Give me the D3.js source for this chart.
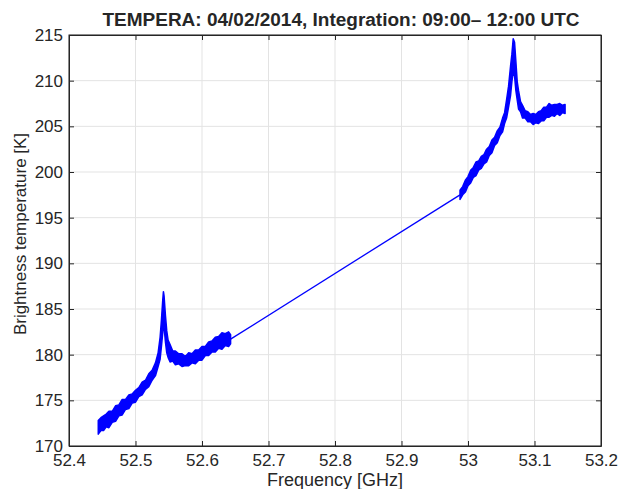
<!DOCTYPE html>
<html>
<head>
<meta charset="utf-8">
<script src="https://cdn.jsdelivr.net/npm/d3@7"></script>
<style>
  body { margin: 0; background: #fff; }
  text { font-family: "Liberation Sans", Arial, sans-serif; fill: #262626; }
</style>
</head>
<body>
<div class="chart"></div>
<script>
// spectrum, low band (frequency, lower and upper edge of the noisy trace)
const freqLow = [52.444, 52.448, 52.452, 52.456, 52.460, 52.465, 52.470, 52.475, 52.480, 52.485,
  52.490, 52.495, 52.500, 52.505, 52.510, 52.515, 52.520, 52.525, 52.530, 52.534,
  52.537, 52.539, 52.541, 52.542, 52.543, 52.545, 52.547, 52.549, 52.552, 52.556,
  52.560, 52.565, 52.570, 52.575, 52.580, 52.585, 52.590, 52.595, 52.600, 52.605,
  52.610, 52.615, 52.620, 52.625, 52.630, 52.635, 52.640, 52.643];
const loLow = [171.3, 171.7, 171.7, 172.1, 172.0, 172.6, 172.7, 173.3, 173.4, 174.0,
  174.1, 174.7, 174.8, 175.4, 175.6, 176.2, 176.5, 177.2, 177.7, 178.7,
  179.5, 180.9, 182.4, 183.8, 183.0, 181.4, 180.2, 179.7, 179.2, 179.3,
  178.9, 179.0, 178.7, 178.8, 178.8, 179.1, 179.0, 179.4, 179.4, 179.9,
  179.9, 180.3, 180.3, 180.7, 180.6, 181.0, 180.9, 181.2];
const hiLow = [172.8, 173.1, 173.3, 173.5, 173.8, 173.8, 174.4, 174.5, 175.1, 175.1,
  175.6, 175.7, 176.1, 176.4, 177.0, 177.2, 177.9, 178.3, 179.1, 180.2,
  181.9, 183.8, 186.0, 186.9, 186.4, 184.3, 182.6, 181.6, 181.1, 180.4,
  180.4, 180.1, 180.1, 179.8, 180.2, 180.1, 180.5, 180.5, 180.9, 180.9,
  181.4, 181.5, 181.9, 182.0, 182.4, 182.3, 182.5, 182.2];

// spectrum, high band
const freqHigh = [52.988, 52.992, 52.996, 53.000, 53.004, 53.008, 53.012, 53.016, 53.020, 53.024,
  53.028, 53.032, 53.036, 53.040, 53.044, 53.048, 53.052, 53.055, 53.058, 53.061,
  53.064, 53.066, 53.068, 53.070, 53.072, 53.074, 53.076, 53.079, 53.082, 53.086,
  53.090, 53.094, 53.098, 53.102, 53.106, 53.110, 53.114, 53.118, 53.122, 53.126,
  53.130, 53.134, 53.138, 53.142, 53.146];
const loHigh = [197.0, 197.5, 197.8, 198.5, 198.8, 199.4, 199.6, 200.2, 200.4, 200.9,
  201.1, 201.8, 202.1, 202.9, 203.2, 204.0, 204.4, 205.3, 205.9, 207.1,
  208.4, 209.9, 211.0, 210.5, 208.9, 207.9, 206.9, 206.6, 205.9, 205.9,
  205.5, 205.5, 205.2, 205.4, 205.3, 205.6, 205.6, 206.0, 206.0, 206.2,
  206.1, 206.4, 206.2, 206.5, 206.4];
const hiHigh = [198.0, 198.4, 199.1, 199.5, 200.2, 200.5, 201.1, 201.2, 201.7, 201.9,
  202.5, 202.8, 203.5, 203.8, 204.5, 204.9, 205.9, 206.5, 207.9, 209.4,
  211.6, 212.9, 214.6, 214.2, 212.1, 209.9, 208.9, 207.7, 207.3, 206.7,
  206.6, 206.3, 206.4, 206.3, 206.6, 206.7, 207.1, 207.1, 207.5, 207.3,
  207.4, 207.4, 207.5, 207.3, 207.4];

const xTicks = [52.4, 52.5, 52.6, 52.7, 52.8, 52.9, 53, 53.1, 53.2];
const yTicks = [170, 175, 180, 185, 190, 195, 200, 205, 210, 215];

let margin = {top: 35, right: 19, left: 69, bottom: 43};
let outWidth = 620, outHeight = 489;
let width = outWidth - margin.left - margin.right,
    height = outHeight - margin.top - margin.bottom;

const svg = d3.select('.chart').append('svg')
  .attr("width", outWidth)
  .attr("height", outHeight);

const g = svg.append("g")
  .attr("transform", `translate(${margin.left}, ${margin.top})`);

const xScale = d3.scaleLinear().domain([52.4, 53.2]).range([0, width]);
const yScale = d3.scaleLinear().domain([170, 215]).range([height, 0]);

// grid
g.selectAll(".vgrid").data(xTicks).enter().append("line")
  .attr("x1", d => xScale(d)).attr("x2", d => xScale(d))
  .attr("y1", 0).attr("y2", height)
  .attr("stroke", "#e3e3e3").attr("stroke-width", 1);
g.selectAll(".hgrid").data(yTicks).enter().append("line")
  .attr("y1", d => yScale(d)).attr("y2", d => yScale(d))
  .attr("x1", 0).attr("x2", width)
  .attr("stroke", "#e3e3e3").attr("stroke-width", 1);

// the data
const lowBand = freqLow.map((f, i) => ({f: f, lo: loLow[i], hi: hiLow[i]}));
const highBand = freqHigh.map((f, i) => ({f: f, lo: loHigh[i], hi: hiHigh[i]}));

const area = d3.area()
  .x(d => xScale(d.f))
  .y0(d => yScale(d.lo))
  .y1(d => yScale(d.hi));

const mid = d => (d.lo + d.hi) / 2;
const last = lowBand[lowBand.length - 1], first = highBand[0];
const bridge = [{f: last.f, v: mid(last)}, {f: first.f, v: mid(first)}];

g.append("path")
  .datum(bridge)
  .attr("d", d3.line().x(d => xScale(d.f)).y(d => yScale(d.v)))
  .attr("fill", "none").attr("stroke", "#0000ff").attr("stroke-width", 1.3);

[lowBand, highBand].forEach(band => {
  g.append("path")
    .datum(band)
    .attr("d", area)
    .attr("fill", "#0000ff")
    .attr("stroke", "#0000ff")
    .attr("stroke-width", 1.5)
    .attr("stroke-linejoin", "round");
});

// axes, ticks pointing inwards, box all round
const xAxis = d3.axisBottom(xScale).tickValues(xTicks).tickSizeInner(-5).tickSizeOuter(0).tickPadding(8).tickFormat(d3.format("~g"));
const yAxis = d3.axisLeft(yScale).tickValues(yTicks).tickSizeInner(-5).tickSizeOuter(0).tickPadding(6);

g.append("g")
  .attr("class", "axis x-axis")
  .attr("transform", `translate(0, ${height})`)
  .call(xAxis);
g.append("g")
  .attr("class", "axis y-axis")
  .call(yAxis);
g.append("g")
  .call(d3.axisTop(xScale).tickValues(xTicks).tickSizeInner(-5).tickSizeOuter(0).tickFormat(""));
g.append("g")
  .attr("transform", `translate(${width}, 0)`)
  .call(d3.axisRight(yScale).tickValues(yTicks).tickSizeInner(-5).tickSizeOuter(0).tickFormat(""));

g.selectAll(".axis text")
  .attr("font-size", 17)
  .attr("font-family", "Liberation Sans, Arial, sans-serif")
  .attr("fill", "#262626");
g.selectAll(".domain, .tick line").attr("stroke", "#262626");

g.append("rect")
  .attr("width", width).attr("height", height)
  .attr("fill", "none").attr("stroke", "#262626").attr("stroke-width", 1);

// labels
svg.append("text")
  .attr("x", 341)
  .attr("y", 26)
  .attr("text-anchor", "middle")
  .attr("font-size", 18)
  .attr("font-weight", "bold")
  .attr("fill", "#000")
  .attr("textLength", 477)
  .attr("lengthAdjust", "spacingAndGlyphs")
  .text("TEMPERA: 04/02/2014, Integration: 09:00– 12:00 UTC");

svg.append("text")
  .attr("x", margin.left + width / 2)
  .attr("y", 486)
  .attr("text-anchor", "middle")
  .attr("font-size", 18)
  .text("Frequency [GHz]");

svg.append("text")
  .attr("transform", `translate(26, 234) rotate(-90)`)
  .attr("text-anchor", "middle")
  .attr("font-size", 17)
  .text("Brightness temperature [K]");
</script>
</body>
</html>
